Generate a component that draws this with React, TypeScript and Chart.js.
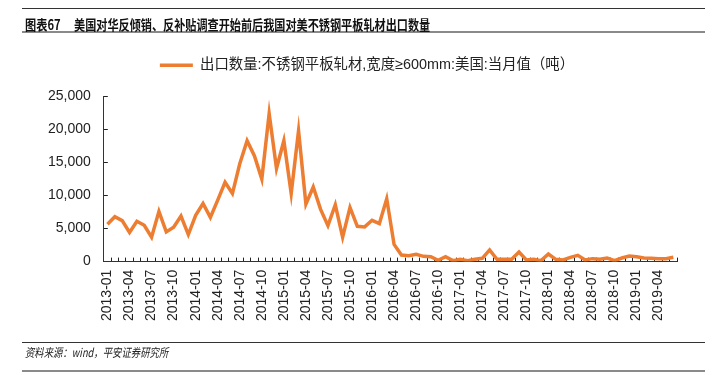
import { useEffect, useRef } from 'react';
import { Chart, registerables } from 'chart.js';

Chart.register(...registerables);

const months: string[] = [
  '2013-01', '2013-02', '2013-03', '2013-04', '2013-05', '2013-06', '2013-07', '2013-08', '2013-09', '2013-10', '2013-11', '2013-12',
  '2014-01', '2014-02', '2014-03', '2014-04', '2014-05', '2014-06', '2014-07', '2014-08', '2014-09', '2014-10', '2014-11', '2014-12',
  '2015-01', '2015-02', '2015-03', '2015-04', '2015-05', '2015-06', '2015-07', '2015-08', '2015-09', '2015-10', '2015-11', '2015-12',
  '2016-01', '2016-02', '2016-03', '2016-04', '2016-05', '2016-06', '2016-07', '2016-08', '2016-09', '2016-10', '2016-11', '2016-12',
  '2017-01', '2017-02', '2017-03', '2017-04', '2017-05', '2017-06', '2017-07', '2017-08', '2017-09', '2017-10', '2017-11', '2017-12',
  '2018-01', '2018-02', '2018-03', '2018-04', '2018-05', '2018-06', '2018-07', '2018-08', '2018-09', '2018-10', '2018-11', '2018-12',
  '2019-01', '2019-02', '2019-03', '2019-04', '2019-05', '2019-06',
];

const exportVolume: number[] = [
  5650, 6800, 6200, 4400, 6100, 5500, 3700, 7600, 4500, 5200, 6900, 4100,
  7000, 8800, 6700, 9300, 12000, 10300, 14800, 18300, 16000, 12500, 22400, 14100,
  18300, 10300, 19800, 8700, 11300, 7900, 5450, 8600, 3700, 8200, 5350, 5250,
  6250, 5750, 9500, 2600, 1000, 900, 1100, 800, 750, 200, 750, 150,
  350, 150, 350, 500, 1770, 350, 350, 350, 1450, 250, 350, 150,
  1150, 350, 250, 650, 950, 250, 450, 350, 550, 150, 550, 850,
  750, 550, 500, 450, 450, 650,
];

const seriesLabel = '出口数量:不锈钢平板轧材,宽度≥600mm:美国:当月值（吨）';
const figureNo = '图表67';
const titleText = '美国对华反倾销、反补贴调查开始前后我国对美不锈钢平板轧材出口数量';
const sourceText = '资料来源：wind，平安证券研究所';

const yMin = 0;
const yMax = 25000;
const yStep = 5000;

const ORANGE = '#ED7D31';
const LATIN = '"Liberation Sans", Arial, "Noto Sans CJK SC", sans-serif';
const CJK = '"Noto Sans CJK SC", "Liberation Sans", sans-serif';

const legendSpacing = {
  id: 'legendSpacing',
  beforeInit(chart: any) {
    const orig = chart.legend.fit;
    chart.legend.fit = function fit() {
      orig.bind(chart.legend)();
      this.height += 14;
    };
  },
  afterLayout(chart: any) {
    const l = chart.legend;
    if (l) {
      l.left += 13;
      l.right += 13;
    }
  },
};

export default function App() {
  const ref = useRef<HTMLCanvasElement | null>(null);

  useEffect(() => {
    const canvas = ref.current;
    if (!canvas) return;
    const chart = new Chart(canvas, {
      type: 'line',
      data: {
        labels: months,
        datasets: [
          {
            label: seriesLabel,
            data: exportVolume,
            borderColor: ORANGE,
            backgroundColor: ORANGE,
            borderWidth: 3.5,
            pointRadius: 0,
            pointHoverRadius: 0,
            tension: 0,
            fill: false,
          },
        ],
      },
      options: {
        responsive: false,
        animation: false,
        devicePixelRatio: 1,
        layout: { padding: { top: 48, left: 31, right: 45, bottom: 42 } },
        plugins: {
          legend: {
            display: true,
            position: 'top',
            labels: {
              usePointStyle: true,
              pointStyle: 'line',
              pointStyleWidth: 33,
              boxHeight: 14,
              color: '#222',
              font: { family: LATIN, size: 14.4 },
              padding: 10,
            },
          },
          tooltip: { enabled: false },
          title: { display: false },
        },
        scales: {
          x: {
            type: 'category',
            offset: true,
            border: { display: true, color: '#333', width: 1 },
            grid: {
              display: true,
              drawOnChartArea: false,
              drawTicks: true,
              tickLength: -4,
              tickColor: '#222',
              offset: true,
            },
            ticks: {
              autoSkip: false,
              minRotation: 90,
              maxRotation: 90,
              padding: 12,
              color: '#222',
              font: { family: LATIN, size: 14 },
              callback: (_v: any, i: number) => (i % 3 === 0 ? months[i] : ''),
            },
          },
          y: {
            min: yMin,
            max: yMax,
            border: { display: true, color: '#333', width: 1 },
            grid: {
              display: true,
              drawOnChartArea: false,
              drawTicks: true,
              tickLength: -4,
              tickColor: '#222',
            },
            ticks: {
              stepSize: yStep,
              padding: 17,
              color: '#222',
              font: { family: LATIN, size: 14 },
              callback: (v: any) => Number(v).toLocaleString('en-US'),
            },
          },
        },
      },
      plugins: [legendSpacing],
    });
    return () => chart.destroy();
  }, []);

  return (
    <div style={{ position: 'fixed', left: 0, top: 0, width: 722, height: 375, background: '#fff', overflow: 'hidden' }}>
      <canvas ref={ref} width={722} height={375} style={{ position: 'absolute', left: 0, top: 0, width: 722, height: 375 }} />
      <div style={{ position: 'absolute', left: 22, top: 8, width: 683, height: 0, borderTop: '1px solid #333' }} />
      <div style={{ position: 'absolute', left: 22, top: 31, width: 683, height: 0, borderTop: '2px solid #8a8a8a' }} />
      <div style={{ position: 'absolute', left: 25, top: 14, fontFamily: CJK, fontWeight: 'bold', fontSize: 14, lineHeight: '20px', color: '#111', whiteSpace: 'nowrap', transform: 'scaleX(0.8)', transformOrigin: 'left center' }}>
        {figureNo}
      </div>
      <div style={{ position: 'absolute', left: 74, top: 14, fontFamily: CJK, fontWeight: 'bold', fontSize: 14, lineHeight: '20px', color: '#111', whiteSpace: 'nowrap', transform: 'scaleX(0.795)', transformOrigin: 'left center' }}>
        {titleText}
      </div>
      <div style={{ position: 'absolute', left: 22, top: 342, width: 683, height: 0, borderTop: '1px solid #333' }} />
      <div style={{ position: 'absolute', left: 25, top: 343, fontFamily: CJK, fontStyle: 'italic', fontSize: 12, lineHeight: '17px', color: '#222', whiteSpace: 'nowrap', transform: 'scaleX(0.78)', transformOrigin: 'left center' }}>
        {sourceText}
      </div>
      <div style={{ position: 'absolute', left: 22, top: 370, width: 683, height: 0, borderTop: '2px solid #8a8a8a' }} />
    </div>
  );
}
